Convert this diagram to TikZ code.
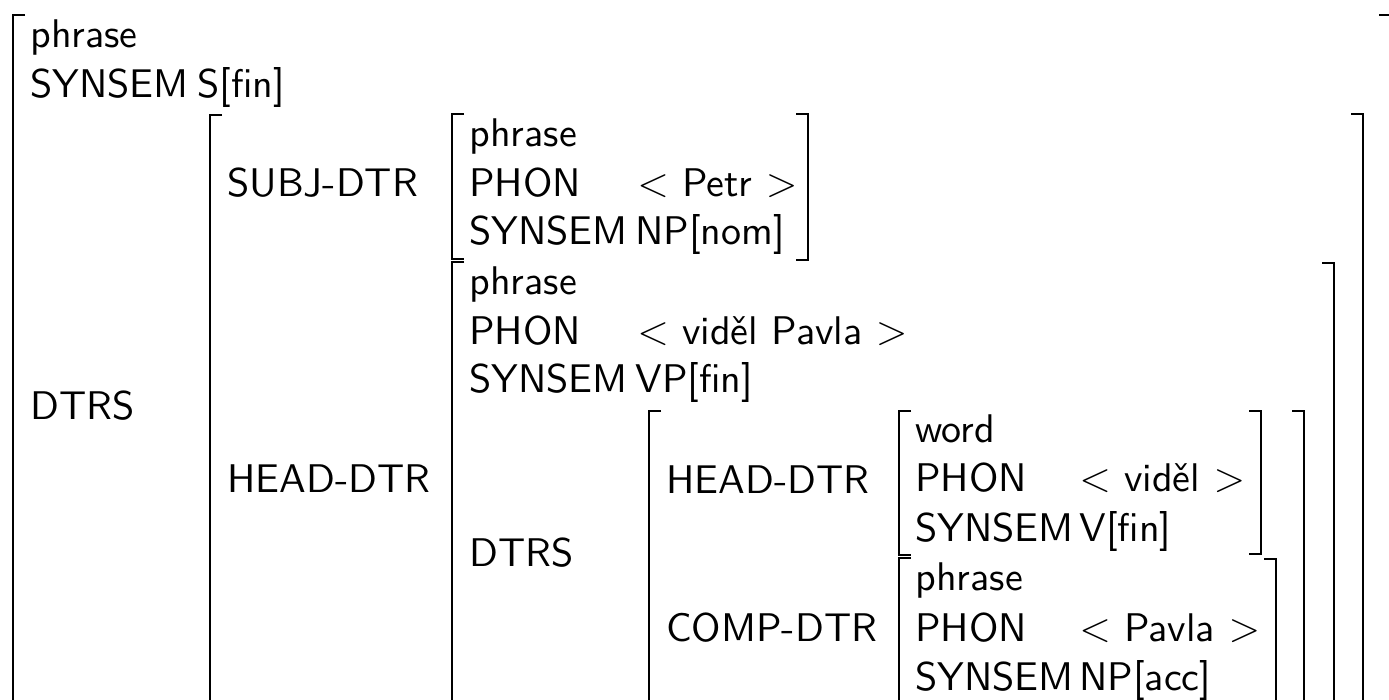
\documentclass[tikz,border=0pt]{standalone}
\usepackage{amsmath}
\usepackage{fontspec}
\usepackage{tikz}
\usetikzlibrary{positioning}

\newfontfamily\avmsans{lmsans10-regular.otf}

\tikzset{
    avm/.style={anchor=base west, inner sep=0pt, font=\avmsans\fontsize{20}{24}\selectfont},
    brk/.style={line width=1pt}
}

\begin{document}
\begin{tikzpicture}[x=0.5pt, y=-0.5pt]
    \useasboundingbox (0,0) rectangle (1389,700);

    % Left brackets: x / top / bottom
    \foreach \x/\t/\b in {13/15/730, 210/115/730, 452/114/259, 452/262/730,
                          649/411/730, 899/411/555, 899/558/730} {
        \draw[brk] (\x+12,\t) -- (\x,\t) -- (\x,\b) -- (\x+12,\b);
    }
    % Right brackets: x / top / bottom
    \foreach \x/\t/\b in {1391/15/730, 1363/114/730, 808/114/260, 1334/263/730,
                          1304/411/730, 1261/411/554, 1276/559/730} {
        \draw[brk] (\x-12,\t) -- (\x,\t) -- (\x,\b) -- (\x-12,\b);
    }

    % Outer AVM
    \node[avm] (ph1)    at (30,48)  {phrase};
    \node[avm] (syn1)   at (30,98)  {SYNSEM};
    \node[avm] (syn1v)  at (197,98) {S[fin]};
    \node[avm] (dtrs1)  at (30,420) {DTRS};

    % Daughters
    \node[avm] (subj)   at (227,197) {SUBJ-DTR};
    \node[avm] (head)   at (227,493) {HEAD-DTR};

    % Subject daughter
    \node[avm] (ph2)    at (469,147) {phrase};
    \node[avm] (phon2)  at (469,197) {PHON};
    \node[avm] (phon2v) at (637,197) {$<$ Petr $>$};
    \node[avm] (syn2)   at (469,245) {SYNSEM};
    \node[avm] (syn2v)  at (635,245) {NP[nom]};

    % Head daughter
    \node[avm] (ph3)    at (469,295) {phrase};
    \node[avm] (phon3)  at (469,345) {PHON};
    \node[avm] (phon3v) at (637,345) {$<$ viděl Pavla $>$};
    \node[avm] (syn3)   at (469,393) {SYNSEM};
    \node[avm] (syn3v)  at (635,393) {VP[fin]};
    \node[avm] (dtrs3)  at (469,567) {DTRS};

    % Its daughters
    \node[avm] (head4)  at (666,494) {HEAD-DTR};
    \node[avm] (comp4)  at (666,641) {COMP-DTR};

    % Verb
    \node[avm] (wd5)    at (915,443) {word};
    \node[avm] (phon5)  at (915,492) {PHON};
    \node[avm] (phon5v) at (1079,492) {$<$ viděl $>$};
    \node[avm] (syn5)   at (915,542) {SYNSEM};
    \node[avm] (syn5v)  at (1079,542) {V[fin]};

    % Object
    \node[avm] (ph6)    at (915,590) {phrase};
    \node[avm] (phon6)  at (915,641) {PHON};
    \node[avm] (phon6v) at (1079,641) {$<$ Pavla $>$};
    \node[avm] (syn6)   at (915,690) {SYNSEM};
    \node[avm] (syn6v)  at (1079,690) {NP[acc]};
\end{tikzpicture}
\end{document}
